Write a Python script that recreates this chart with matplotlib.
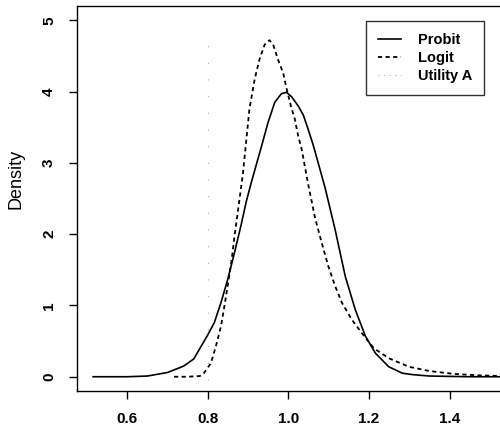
"""
Density of the estimated parameter under probit and logit links.
"""

import matplotlib
matplotlib.use("Agg")
import matplotlib.pyplot as plt
from matplotlib.lines import Line2D

plt.rcParams["font.family"] = ["Liberation Sans", "DejaVu Sans"]

# Probit density curve
probit_x = [0.515, 0.60, 0.65, 0.70, 0.74, 0.765, 0.7825, 0.80, 0.816, 0.8325,
            0.849, 0.866, 0.8825, 0.895, 0.9075, 0.9325, 0.949, 0.966, 0.9825,
            0.995, 1.0075, 1.024, 1.037, 1.049, 1.062, 1.091, 1.116, 1.141,
            1.166, 1.191, 1.216, 1.249, 1.2825, 1.3075, 1.35, 1.40, 1.45, 1.53]
probit_y = [0.0, 0.0, 0.01, 0.06, 0.15, 0.25, 0.42, 0.59, 0.76, 1.04,
            1.36, 1.74, 2.13, 2.45, 2.72, 3.22, 3.56, 3.85, 3.97,
            3.99, 3.93, 3.80, 3.67, 3.47, 3.24, 2.65, 2.06, 1.41,
            0.94, 0.57, 0.33, 0.14, 0.05, 0.03, 0.01, 0.005, 0.0, 0.0]

# Logit density curve
logit_x = [0.716, 0.75, 0.78, 0.79, 0.8075, 0.82, 0.8325, 0.841, 0.849, 0.859,
           0.866, 0.874, 0.887, 0.903, 0.916, 0.928, 0.941, 0.953, 0.962,
           0.974, 0.987, 0.995, 1.006, 1.016, 1.024, 1.0325, 1.049, 1.066,
           1.0825, 1.099, 1.116, 1.1325, 1.1575, 1.1825, 1.212, 1.249, 1.299,
           1.35, 1.41, 1.47, 1.53]
logit_y = [0.0, 0.0, 0.01, 0.05, 0.19, 0.43, 0.71, 0.99, 1.27, 1.64,
           1.97, 2.30, 2.85, 3.75, 4.17, 4.45, 4.66, 4.72, 4.66,
           4.45, 4.26, 4.05, 3.80, 3.61, 3.38, 3.20, 2.70, 2.23,
           1.88, 1.55, 1.27, 1.04, 0.80, 0.61, 0.40, 0.26, 0.14,
           0.08, 0.04, 0.02, 0.01]

# Utility A marker (vertical reference)
utility_x = [0.8, 0.8]
utility_y = [-0.05, 4.8]

x_ticks = [0.6, 0.8, 1.0, 1.2, 1.4]
y_ticks = [0, 1, 2, 3, 4, 5]

fig = plt.figure(figsize=(5.0, 4.3), dpi=100)
ax = fig.add_axes([0.154, 0.0907, 0.876, 0.8953])

probit_line, = ax.plot(probit_x, probit_y, color="black", linewidth=1.2)
logit_line, = ax.plot(logit_x, logit_y, color="black", linewidth=1.3,
                      linestyle=(0, (2.3, 1.9)))
ax.plot(utility_x, utility_y, color="#b0b0b0", linewidth=0.8,
        linestyle=(0, (1, 14)))

ax.set_xlim(0.475, 1.5625)
ax.set_ylim(-0.2, 5.2)
ax.set_xticks(x_ticks)
ax.set_xticklabels([f"{v:.1f}" for v in x_ticks], fontweight="bold")
ax.set_yticks(y_ticks)
ax.set_yticklabels([str(v) for v in y_ticks], rotation=90, va="center",
                   fontweight="bold")

ax.tick_params(axis="both", direction="out", length=6, width=1.0,
               labelsize=11, colors="black")
ax.tick_params(axis="x", pad=9)
ax.tick_params(axis="y", pad=9)

for side in ["left", "bottom", "top", "right"]:
    ax.spines[side].set_linewidth(1.0)

ax.set_ylabel("Density", fontsize=13)
ax.yaxis.set_label_coords(-0.121, 0.552)

# legend handle for the utility line uses denser dots so it stays visible
utility_handle = Line2D([], [], color="#b0b0b0", linewidth=0.8,
                        linestyle=(0, (1, 4)))
leg = ax.legend([probit_line, logit_line, utility_handle],
                ["Probit", "Logit", "Utility A"],
                loc="upper left", bbox_to_anchor=(0.732, 0.951),
                bbox_transform=fig.transFigure,
                prop={"size": 10.5, "weight": "bold"}, frameon=True,
                fancybox=False, handlelength=1.6, handletextpad=1.15,
                borderpad=0.8, labelspacing=0.3, borderaxespad=0)
leg.get_frame().set_edgecolor("black")
leg.get_frame().set_linewidth(1.0)

fig.savefig("out.png", dpi=100)
